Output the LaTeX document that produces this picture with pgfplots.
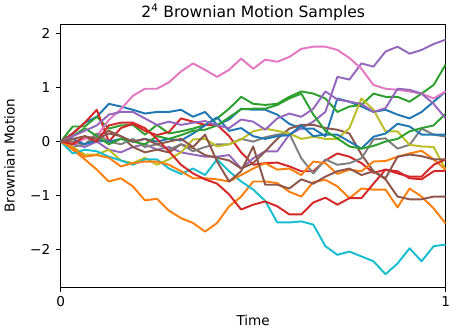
\documentclass[border=0pt]{standalone}
\usepackage{fontspec}
\setmainfont{DejaVu Sans}
\usepackage{pgfplots}
\usepackage{pgfplotstable}
\pgfplotsset{compat=1.18}
\definecolor{c0}{HTML}{1F77B4}
\definecolor{c1}{HTML}{FF7F0E}
\definecolor{c2}{HTML}{2CA02C}
\definecolor{c3}{HTML}{D62728}
\definecolor{c4}{HTML}{9467BD}
\definecolor{c5}{HTML}{8C564B}
\definecolor{c6}{HTML}{E377C2}
\definecolor{c7}{HTML}{7F7F7F}
\definecolor{c8}{HTML}{BCBD22}
\definecolor{c9}{HTML}{17BECF}
\pgfplotstableread{
t a1 a2 a3 a4 a5 a6 a7 a8 a9 a10 a11 a12 a13 a14 a15 a16
0.00000 0.00 0.00 0.00 0.00 0.00 0.00 0.00 0.00 0.00 0.00 0.00 0.00 0.00 0.00 0.00 0.00
0.03125 0.15 -0.15 0.28 0.15 -0.05 0.00 -0.05 -0.10 -0.10 -0.22 0.05 -0.12 0.10 -0.05 0.10 0.05
0.06250 0.35 -0.33 0.28 0.35 -0.10 -0.05 0.05 -0.05 -0.24 -0.15 -0.05 -0.28 0.25 0.10 0.20 0.10
0.09375 0.46 -0.52 0.46 0.59 0.00 0.10 0.10 0.15 -0.24 -0.18 0.02 -0.25 0.10 0.00 0.30 0.05
0.12500 0.70 -0.74 0.24 0.00 -0.15 0.20 0.40 0.00 -0.15 -0.28 0.00 -0.30 -0.05 0.30 0.50 0.15
0.15625 0.65 -0.68 0.30 0.25 -0.20 0.10 0.60 -0.05 -0.35 -0.35 0.05 -0.46 0.05 0.35 0.55 0.10
0.18750 0.59 -0.83 0.31 0.33 -0.10 -0.10 0.85 0.05 -0.40 -0.43 0.00 -0.40 0.00 0.35 0.55 0.00
0.21875 0.52 -1.09 0.13 0.20 -0.05 -0.20 0.98 -0.10 -0.30 -0.33 0.05 -0.37 -0.05 0.25 0.43 0.05
0.25000 0.55 -1.06 0.31 0.12 -0.15 -0.15 0.98 -0.05 -0.43 -0.33 0.00 -0.37 0.10 0.05 0.31 -0.05
0.28125 0.55 -1.28 0.15 0.18 -0.10 -0.20 1.10 -0.15 -0.33 -0.50 0.05 -0.43 0.05 -0.18 0.37 0.00
0.31250 0.59 -1.42 0.19 0.43 -0.20 -0.05 1.30 -0.05 -0.20 -0.60 0.02 -0.55 0.12 -0.43 0.31 0.05
0.34375 0.46 -1.51 0.24 0.37 -0.24 -0.12 1.45 -0.18 0.04 -0.50 0.15 -0.68 0.20 -0.59 0.35 -0.10
0.37500 0.55 -1.67 0.31 0.31 -0.28 -0.25 1.33 -0.10 0.05 -0.62 0.30 -0.68 0.22 -0.70 0.38 0.13
0.40625 0.31 -1.51 0.43 0.31 -0.28 -0.30 1.20 -0.05 -0.09 -0.33 0.45 -0.70 0.30 -0.78 0.30 -0.37
0.43750 0.41 -1.20 0.61 0.10 -0.25 -0.35 1.33 -0.05 -0.05 -0.55 0.20 -0.74 0.45 -0.98 0.25 -0.74
0.46875 0.61 -1.02 0.83 -0.20 -0.50 -0.50 1.54 0.05 0.04 -0.74 0.25 -0.62 0.60 -1.26 0.41 -0.55
0.50000 0.59 -0.74 0.70 -0.43 -0.31 -0.40 1.35 0.00 0.19 -0.89 0.10 -0.50 0.61 -1.17 0.37 -0.09
0.53125 0.59 -0.74 0.68 -0.40 -0.18 -0.18 1.52 0.08 0.24 -1.10 0.05 -0.40 0.61 -1.11 0.22 -0.80
0.56250 0.50 -0.77 0.70 -0.39 -0.18 0.05 1.48 0.13 0.20 -1.50 0.10 -0.52 0.68 -1.20 0.43 -0.80
0.59375 0.33 -0.93 0.83 -0.46 0.13 0.24 1.57 0.15 0.15 -1.50 0.12 -0.50 0.80 -1.35 0.52 -0.87
0.62500 0.24 -1.02 0.93 -0.55 0.25 0.31 1.72 -0.31 0.05 -1.48 0.30 -0.62 0.89 -1.35 0.46 -0.70
0.65625 0.24 -0.75 0.89 -0.55 0.37 0.31 1.76 -0.59 0.09 -1.54 0.10 -0.37 0.50 -1.13 0.61 -0.78
0.68750 0.10 -0.71 0.80 -0.35 0.55 0.25 1.76 -0.33 0.05 -1.94 0.13 -0.40 0.20 -1.04 0.93 -0.65
0.71875 0.80 -0.83 0.55 -0.22 1.20 0.22 1.70 -0.43 0.05 -2.10 0.13 -0.60 0.06 -1.17 0.78 -0.55
0.75000 0.74 -1.05 0.65 -0.28 1.15 0.15 1.55 -0.40 0.25 -2.04 0.00 -0.52 -0.09 -1.05 0.74 -0.50
0.78125 0.65 -0.87 0.68 -0.40 1.45 -0.24 1.35 -0.31 0.80 -2.13 -0.13 -0.55 -0.13 -1.05 0.70 -0.62
0.81250 0.55 -0.89 0.89 -0.58 1.39 -0.55 1.05 0.04 0.59 -2.22 0.09 -0.37 -0.08 -0.78 0.55 -0.55
0.84375 0.59 -0.89 0.83 -0.52 1.67 -0.70 0.98 0.06 0.19 -2.46 0.15 -0.36 0.00 -0.52 0.62 -0.68
0.87500 0.50 -1.22 0.83 -0.55 1.76 -1.02 0.96 -0.13 0.19 -2.26 0.33 -0.28 0.05 -0.59 0.98 -0.28
0.90625 0.43 -0.87 0.74 -0.68 1.63 -1.07 0.93 -0.06 -0.06 -1.98 0.28 -0.22 0.19 -0.65 0.96 -0.24
0.93750 0.55 -1.02 0.89 -0.70 1.70 -1.07 0.89 0.24 -0.09 -2.22 0.13 -0.17 0.25 -0.65 0.89 -0.27
0.96875 0.74 -1.24 1.05 -0.55 1.81 -1.02 0.80 0.13 -0.10 -1.94 0.13 -0.33 0.30 -0.43 0.70 -0.33
1.00000 0.93 -1.52 1.43 -0.54 1.89 -1.02 0.93 0.09 -0.52 -1.91 0.13 -0.52 0.52 -0.33 0.43 -0.33
}\bm
\begin{document}
\begin{tikzpicture}
\begin{axis}[
  width=297pt, height=203pt, scale only axis,
  xmin=0, xmax=1, ymin=-2.70, ymax=2.18,
  xtick={0,1}, xticklabels={0,1},
  ytick={-2,-1,0,1,2}, yticklabels={−2,−1,0,1,2},
  tick pos=left, tick align=outside, major tick length=3.5pt,
  every tick/.style={black, line width=0.6pt},
  axis line style={line width=0.6pt},
  xlabel={Time}, ylabel={Brownian Motion},
  title={2\textsuperscript{4} Brownian Motion Samples},
  title style={font=\fontsize{12}{14}\selectfont, yshift=-7pt},
  label style={font=\fontsize{10.5}{12}\selectfont},
  ylabel style={yshift=5pt},
  yticklabel style={xshift=-1pt},
  xticklabel style={inner xsep=0pt},
  ticklabel style={font=\fontsize{10.5}{12}\selectfont},
  every axis plot/.append style={line width=1.5pt, line join=round, mark=none},
]
\addplot[c0] table[x=t,y=a1]{\bm};
\addplot[c1] table[x=t,y=a2]{\bm};
\addplot[c2] table[x=t,y=a3]{\bm};
\addplot[c3] table[x=t,y=a4]{\bm};
\addplot[c4] table[x=t,y=a5]{\bm};
\addplot[c5] table[x=t,y=a6]{\bm};
\addplot[c6] table[x=t,y=a7]{\bm};
\addplot[c7] table[x=t,y=a8]{\bm};
\addplot[c8] table[x=t,y=a9]{\bm};
\addplot[c9] table[x=t,y=a10]{\bm};
\addplot[c0] table[x=t,y=a11]{\bm};
\addplot[c1] table[x=t,y=a12]{\bm};
\addplot[c2] table[x=t,y=a13]{\bm};
\addplot[c3] table[x=t,y=a14]{\bm};
\addplot[c4] table[x=t,y=a15]{\bm};
\addplot[c5] table[x=t,y=a16]{\bm};
\end{axis}
\end{tikzpicture}
\end{document}
